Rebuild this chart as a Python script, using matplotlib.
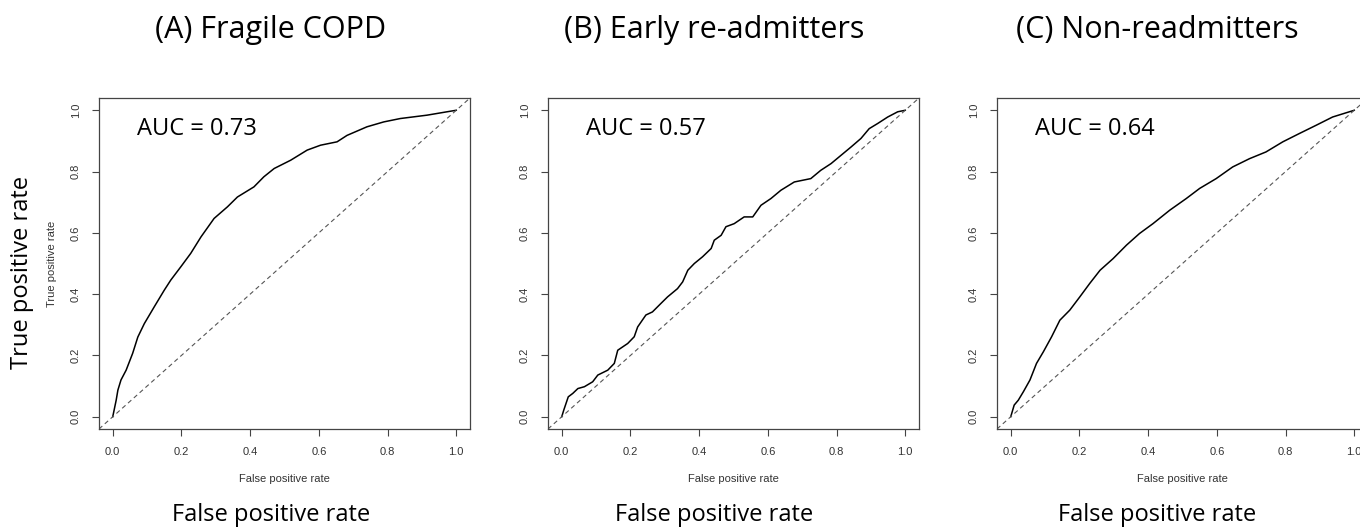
import numpy as np
import matplotlib
matplotlib.use("Agg")
import matplotlib.pyplot as plt

# ROC curves (false positive rate, true positive rate)
fpr_a = [0, 0.01, 0.015, 0.024, 0.039, 0.058, 0.073, 0.092, 0.121, 0.15, 0.169, 0.198,
         0.227, 0.257, 0.295, 0.334, 0.363, 0.411, 0.44, 0.47, 0.518, 0.566, 0.605,
         0.653, 0.682, 0.74, 0.789, 0.837, 0.915, 0.973, 1.0]
tpr_a = [0, 0.054, 0.087, 0.12, 0.152, 0.207, 0.26, 0.304, 0.359, 0.413, 0.446, 0.489,
         0.533, 0.587, 0.647, 0.685, 0.717, 0.75, 0.783, 0.81, 0.837, 0.87, 0.886,
         0.897, 0.918, 0.946, 0.962, 0.973, 0.984, 0.995, 1.0]

fpr_b = [0, 0.006, 0.019, 0.032, 0.047, 0.066, 0.09, 0.105, 0.134, 0.153, 0.163, 0.192,
         0.211, 0.221, 0.245, 0.264, 0.289, 0.308, 0.337, 0.352, 0.367, 0.386, 0.41,
         0.435, 0.444, 0.464, 0.478, 0.502, 0.531, 0.556, 0.58, 0.609, 0.638, 0.677,
         0.725, 0.754, 0.784, 0.813, 0.842, 0.871, 0.895, 0.92, 0.949, 0.978, 1.0]
tpr_b = [0, 0.022, 0.065, 0.076, 0.092, 0.098, 0.114, 0.136, 0.152, 0.174, 0.217, 0.239,
         0.261, 0.293, 0.332, 0.342, 0.37, 0.391, 0.418, 0.44, 0.478, 0.5, 0.522,
         0.549, 0.576, 0.592, 0.62, 0.63, 0.652, 0.652, 0.69, 0.712, 0.739, 0.766,
         0.777, 0.804, 0.826, 0.853, 0.88, 0.908, 0.94, 0.957, 0.978, 0.995, 1.0]

fpr_c = [0, 0.01, 0.022, 0.037, 0.056, 0.075, 0.095, 0.119, 0.143, 0.172, 0.201, 0.23,
         0.26, 0.298, 0.337, 0.375, 0.414, 0.463, 0.511, 0.55, 0.598, 0.646, 0.695,
         0.743, 0.792, 0.84, 0.889, 0.937, 1.0]
tpr_c = [0, 0.038, 0.054, 0.082, 0.12, 0.174, 0.212, 0.261, 0.315, 0.348, 0.391, 0.435,
         0.478, 0.516, 0.56, 0.598, 0.63, 0.674, 0.712, 0.745, 0.777, 0.815, 0.842,
         0.864, 0.897, 0.924, 0.951, 0.978, 1.0]

titles = ["(A) Fragile COPD", "(B) Early re-admitters", "(C) Non-readmitters"]
aucs = [0.73, 0.57, 0.64]
ticks = [0.0, 0.2, 0.4, 0.6, 0.8, 1.0]

W, H = 1360, 528
fig = plt.figure(figsize=(W / 100, H / 100), dpi=100)

big = dict(family="Open Sans", color="black")
small = dict(family="Liberation Sans", size=8, color="#333333")

lefts = [99, 548, 997]
centers = [271, 714, 1157]
curves = [(fpr_a, tpr_a), (fpr_b, tpr_b), (fpr_c, tpr_c)]

for i in range(3):
    ax = fig.add_axes([lefts[i] / W, 99 / H, 371 / W, 331 / H])
    fpr, tpr = curves[i]
    ax.plot(fpr, tpr, color="black", lw=1.1)
    ax.plot([-0.04, 1.04], [-0.04, 1.04], color="#555555", lw=0.8, ls=(0, (4, 3)))
    ax.set_xlim(-0.04, 1.04)
    ax.set_ylim(-0.04, 1.04)
    ax.set_xticks(ticks)
    ax.set_yticks(ticks)
    ax.set_xticklabels(["%.1f" % t for t in ticks], **small)
    ax.set_yticklabels(["%.1f" % t for t in ticks], rotation=90, va="center", **small)
    ax.tick_params(length=5, width=0.8, color="#444444", pad=8)
    for s in ax.spines.values():
        s.set_color("#444444")
        s.set_linewidth(0.9)
    ax.set_xlabel("False positive rate", **small)
    ax.xaxis.set_label_coords(0.5, -0.135)
    if i == 0:
        ax.set_ylabel("True positive rate", **small)
        ax.yaxis.set_label_coords(-0.114, 0.5)
    ax.text(0.07, 0.918, "AUC = %.2f" % aucs[i], fontsize=17, va="baseline", **big)

    fig.text(centers[i] / W, 1 - 38 / H, titles[i], fontsize=22, ha="center",
             va="baseline", **big)
    fig.text(centers[i] / W, 1 - 521 / H, "False positive rate", fontsize=17,
             ha="center", va="baseline", **big)

fig.text(22 / W, 1 - 272 / H, "True positive rate", fontsize=17, rotation=90,
         ha="center", va="center", **big)

fig.savefig("out.png", dpi=100)
